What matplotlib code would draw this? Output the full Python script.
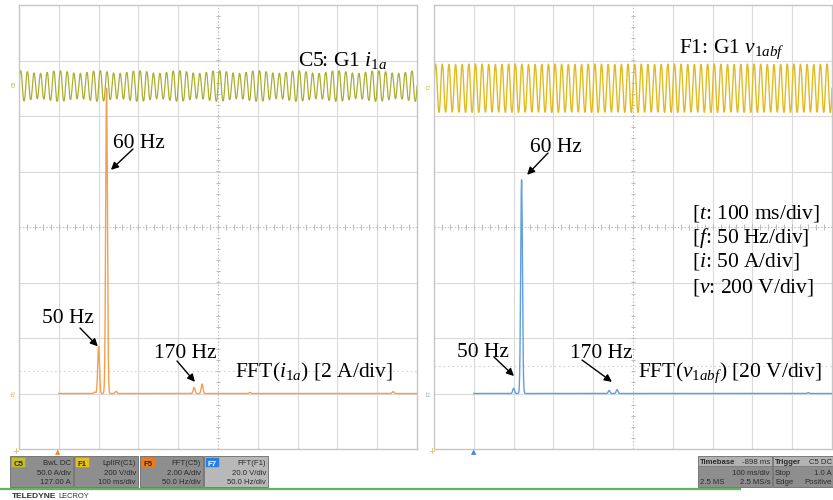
import numpy as np
import matplotlib
matplotlib.use("Agg")
import matplotlib.pyplot as plt
from matplotlib.patches import Rectangle
from matplotlib.lines import Line2D

# ---------------- data ----------------
# spectral lines of the phase current i1a (Hz, A)
i_fft_freq_hz = [45, 50, 60, 72, 170, 180, 240, 420]
i_fft_amp_a = [0.05, 1.7, 11.0, 0.08, 0.22, 0.34, 0.04, 0.07]
# spectral lines of the filtered line voltage v1abf (Hz, V)
v_fft_freq_hz = [50, 60, 170, 180, 420]
v_fft_amp_v = [1.9, 77.0, 1.1, 1.4, 0.3]
# components of the time-domain traces (Hz, peak values)
i_wave_freq_hz = [50, 60, 170, 180]
i_wave_amp_a = [1.5, 13.0, 0.3, 0.4]
v_wave_freq_hz = [50, 60, 170, 180]
v_wave_amp_v = [2.0, 88.0, 1.3, 1.6]

# scope settings
time_per_div_s = 0.1
freq_per_div_hz = 50.0
i_per_div_a = 50.0
i_offset_a = 127.0
v_per_div_v = 200.0
v_offset_v = 500.0
i_fft_per_div_a = 2.0
v_fft_per_div_v = 20.0
fft_baseline_div = -3.0
fft_start_div = 1.0

# ---------------- style ----------------
plt.rcParams["mathtext.fontset"] = "custom"
plt.rcParams["mathtext.rm"] = "Liberation Serif"
plt.rcParams["mathtext.it"] = "Liberation Serif:italic"
SERIF = "Liberation Serif"
SANS = "Liberation Sans"
W, H = 833, 500

fig = plt.figure(figsize=(W / 100, H / 100), dpi=100)
fig.patch.set_facecolor("white")


def fx(px):
    return px / W


def fy(py):
    return 1 - py / H


def f2div(f):
    return fft_start_div + np.asarray(f) / freq_per_div_hz


def t2div(t):
    return np.asarray(t) / time_per_div_s


def spectrum(freqs, amps, per_div):
    f = np.arange(0, 450.01, 0.2)
    s = np.zeros_like(f)
    for fk, ak in zip(freqs, amps):
        s += ak * np.exp(-0.5 * ((f - fk) / 1.1) ** 2)
    return f2div(f), fft_baseline_div + s / per_div


def waveform(freqs, amps, offset, per_div):
    t = np.linspace(0, 1.0, 9000)
    y = np.zeros_like(t)
    for fk, ak in zip(freqs, amps):
        y += ak * np.sin(2 * np.pi * fk * t)
    return t2div(t), (offset + y) / per_div


def make_panel(x0):
    ax = fig.add_axes([fx(x0), fy(449), 398 / W, 444 / H])
    ax.set_xlim(0, 10)
    ax.set_ylim(-4, 4)
    ax.set_xticks([])
    ax.set_yticks([])
    for sp in ax.spines.values():
        sp.set_color("#c6c6c6")
        sp.set_linewidth(1.0)
    for i in range(1, 10):
        if i != 5:
            ax.axvline(i, color="#dadada", lw=0.8, zorder=0)
    for j in range(-3, 4):
        if j != 0:
            ax.axhline(j, color="#dadada", lw=0.8, zorder=0)
    ax.axvline(5, color="#c4c4c4", lw=0.8, ls=(0, (1.5, 1.5)), zorder=0)
    ax.axhline(0, color="#c4c4c4", lw=0.8, ls=(0, (1.5, 1.5)), zorder=0)
    tk = np.arange(-4, 4.01, 0.2)
    ax.hlines(tk, 4.94, 5.06, color="#bcbcbc", lw=0.7, zorder=0)
    tk = np.arange(0, 10.01, 0.2)
    ax.vlines(tk, -0.05, 0.05, color="#bcbcbc", lw=0.7, zorder=0)
    return ax


axL = make_panel(19)
axR = make_panel(434)
axL.axhline(-2.6, color="#d4d4d4", lw=0.8, ls=(0, (1.5, 2.5)), zorder=0)
axR.axhline(-2.5, color="#d4d4d4", lw=0.8, ls=(0, (1.5, 2.5)), zorder=0)

# time-domain traces
x, y = waveform(i_wave_freq_hz, i_wave_amp_a, i_offset_a, i_per_div_a)
axL.plot(x, y, color="#aaae32", lw=0.9, zorder=2)
x, y = waveform(v_wave_freq_hz, v_wave_amp_v, v_offset_v, v_per_div_v)
axR.plot(x, y, color="#e0bc22", lw=1.0, zorder=2)

# spectra
x, y = spectrum(i_fft_freq_hz, i_fft_amp_a, i_fft_per_div_a)
axL.plot(x, y, color="#f4a04e", lw=1.0, zorder=3)
x, y = spectrum(v_fft_freq_hz, v_fft_amp_v, v_fft_per_div_v)
axR.plot(x, y, color="#5d9fe0", lw=1.0, zorder=3)

FS = 15.5


def label(px, py, s, **kw):
    fig.text(fx(px), fy(py), s, ha="left", va="baseline", fontsize=FS,
             family=SERIF, color="black", **kw)


def arrow(ax, tip, tail_px):
    ax.annotate("", xy=tip, xycoords="data",
                xytext=(tail_px[0], H - tail_px[1]), textcoords="figure pixels",
                arrowprops=dict(arrowstyle="-|>", color="black", lw=1.0,
                                mutation_scale=11, shrinkA=0, shrinkB=0),
                zorder=5)


def peak_top(freqs, amps, per_div, f):
    return fft_baseline_div + amps[freqs.index(f)] / per_div


# current panel annotations
label(298, 66, r"C5: G1 $i_{1a}$")
label(113, 148, "60 Hz")
arrow(axL, (f2div(60) + 0.11, peak_top(i_fft_freq_hz, i_fft_amp_a, i_fft_per_div_a, 60) - 1.47), (133, 149))
label(42, 323, "50 Hz")
arrow(axL, (f2div(50) - 0.02, peak_top(i_fft_freq_hz, i_fft_amp_a, i_fft_per_div_a, 50)), (80, 328))
label(154, 358, "170 Hz")
arrow(axL, (f2div(170) + 0.02, peak_top(i_fft_freq_hz, i_fft_amp_a, i_fft_per_div_a, 170) + 0.1), (177, 361))
label(235, 377, r"FFT($i_{1a}$) [2 A/div]")

# voltage panel annotations
label(679, 53, r"F1: G1 $v_{1abf}$")
label(530, 152, "60 Hz")
arrow(axR, (f2div(60) + 0.14, peak_top(v_fft_freq_hz, v_fft_amp_v, v_fft_per_div_v, 60) + 0.09), (548, 153))
label(457, 357, "50 Hz")
arrow(axR, (f2div(50) + 0.01, peak_top(v_fft_freq_hz, v_fft_amp_v, v_fft_per_div_v, 50) + 0.22), (494, 357))
label(570, 358, "170 Hz")
arrow(axR, (f2div(170) + 0.07, peak_top(v_fft_freq_hz, v_fft_amp_v, v_fft_per_div_v, 170) + 0.155), (582, 360))
label(638, 377, r"FFT($v_{1abf}$) [20 V/div]")

label(692, 219, r"[$t$: 100 ms/div]")
label(692, 243, r"[$f$: 50 Hz/div]")
label(692, 267, r"[$i$: 50 A/div]")
label(692, 292, r"[$v$: 200 V/div]")

# trace tags on the panel edges
def tag(px, py, s, c, rot=90, fs=3.5):
    fig.text(fx(px), fy(py), s, ha="center", va="center", fontsize=fs,
             family=SANS, color=c, rotation=rot)

tag(14, 84, "C5", "#aaae32")
tag(14, 393, "F5", "#f4a04e")
tag(429, 86, "F1", "#ddb816")
tag(429, 393, "F7", "#5d9fe0")
fig.text(fx(16), fy(451), "+", ha="center", va="center", fontsize=6, color="#c8c040")
fig.text(fx(58), fy(452), "\u25B2", ha="center", va="center", fontsize=5, color="#f08a30")
fig.text(fx(432), fy(451), "+", ha="center", va="center", fontsize=6, color="#d8c030")
fig.text(fx(474), fy(452), "\u25B2", ha="center", va="center", fontsize=5, color="#3a86e0")

# ---------------- status bar ----------------
def rect(x0, x1, y0, y1, fc, ec="#6a6a6a", lw=0.6):
    fig.add_artist(Rectangle((fx(x0), fy(y1)), (x1 - x0) / W, (y1 - y0) / H,
                             transform=fig.transFigure, fc=fc, ec=ec, lw=lw))


def stext(px, py, s, ha="right", c="#2a2a2a", fs=5.6, weight="normal"):
    return fig.text(fx(px), fy(py), s, ha=ha, va="baseline", fontsize=fs,
                    family=SANS, color=c, weight=weight)


channels = [
    (10, 73, "C5", "#c4bf2c", "#2a2a2a", "#8e8e8e", ["BwL DC", "50.0 A/div", "127.00 A"]),
    (74, 138, "F1", "#e6c21c", "#2a2a2a", "#8e8e8e", ["LpIIR(C1)", "200 V/div", "100 ms/div"]),
    (140, 203, "F5", "#ee7a1e", "#2a2a2a", "#8e8e8e", ["FFT(C5)", "2.00 A/div", "50.0 Hz/div"]),
    (204, 268, "F7", "#2c7fe0", "white", "#b8b8b8", ["FFT(F1)", "20.0 V/div", "50.0 Hz/div"]),
]
for x0, x1, name, bc, tc, fc, lines in channels:
    rect(x0, x1, 456, 487, fc)
    rect(x0 + 2, x0 + 15, 458, 467, bc, ec=bc, lw=0.3)
    stext(x0 + 8.5, 465.5, name, ha="center", c=tc, weight="bold")
    stext(x1 - 2, 465, lines[0])
    stext(x1 - 2, 475, lines[1])
    stext(x1 - 2, 484.5, lines[2])

rect(698, 772, 456, 487, "#8e8e8e")
rect(698, 772, 456, 466, "#b2b2b2", lw=0.4)
stext(700, 464.5, "Timebase", ha="left", weight="bold")
stext(770, 464.5, "-898 ms")
stext(770, 475, "100 ms/div")
stext(700, 484.5, "2.5 MS", ha="left")
stext(770, 484.5, "2.5 MS/s")

rect(773, 833, 456, 487, "#8e8e8e")
rect(773, 833, 456, 466, "#b2b2b2", lw=0.4)
stext(775, 464.5, "Trigger", ha="left", weight="bold")
stext(832, 464.5, "C5 DC")
stext(775, 475, "Stop", ha="left")
stext(832, 475, "1.0 A")
stext(775, 484.5, "Edge", ha="left")
stext(832, 484.5, "Positive")

fig.add_artist(Line2D([0, fx(740)], [fy(489), fy(489)], transform=fig.transFigure,
                      color="#5cb85c", lw=1.6))
brand = stext(12, 498, "TELEDYNE", ha="left", fs=6.0, weight="bold", c="#333333")
renderer = fig.canvas.get_renderer()
bb = brand.get_window_extent(renderer=renderer)
stext(bb.x1 + 1.5, 498, "LECROY", ha="left", fs=5.4, c="#333333")

fig.savefig("out.png", dpi=100, facecolor="white")
